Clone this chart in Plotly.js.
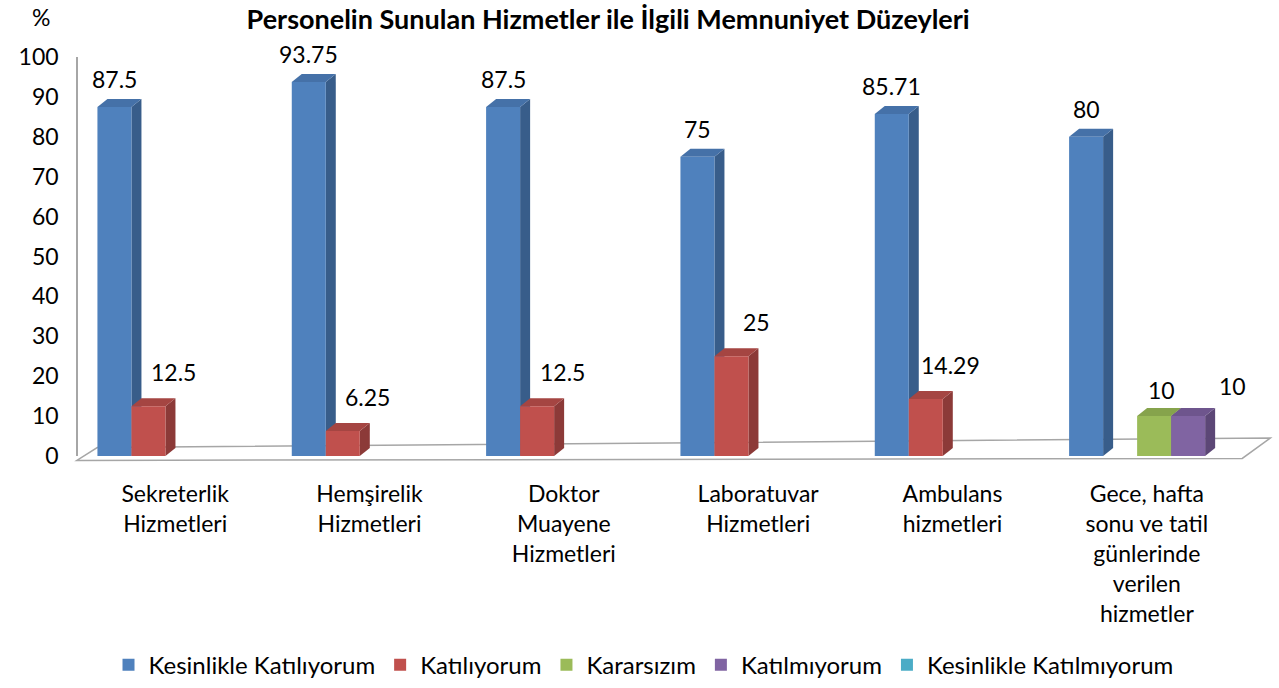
<!DOCTYPE html>
<html>
<head>
<meta charset="utf-8">
<script src="https://cdn.plot.ly/plotly-3.0.1.min.js"></script>
<style>html,body{margin:0;padding:0;background:#fff;}#chart{width:1279px;height:688px;}</style>
</head>
<body>
<div id="chart"></div>
<script>
// ---- Data ----
const categories = [
  'Sekreterlik<br>Hizmetleri',
  'Hemşirelik<br>Hizmetleri',
  'Doktor<br>Muayene<br>Hizmetleri',
  'Laboratuvar<br>Hizmetleri',
  'Ambulans<br>hizmetleri',
  'Gece, hafta<br>sonu ve tatil<br>günlerinde<br>verilen<br>hizmetler'
];
const seriesNames = ['Kesinlikle Katılıyorum', 'Katılıyorum', 'Kararsızım', 'Katılmıyorum', 'Kesinlikle Katılmıyorum'];
const kesinlikleKatiliyorum = [87.5, 93.75, 87.5, 75, 85.71, 80];
const katiliyorum = [12.5, 6.25, 12.5, 25, 14.29, null];
const kararsizim = [null, null, null, null, null, 10];
const katilmiyorum = [null, null, null, null, null, 10];
const kesinlikleKatilmiyorum = [null, null, null, null, null, null];
const yTicks = [0, 10, 20, 30, 40, 50, 60, 70, 80, 90, 100];

// ---- Style ----
const seriesValues = [kesinlikleKatiliyorum, katiliyorum, kararsizim, katilmiyorum, kesinlikleKatilmiyorum];
const frontColors = ['#4F81BD', '#C0504D', '#9BBB59', '#8064A2', '#4BACC6'];
const sideColors  = ['#385D8A', '#8C3A38', '#71893F', '#5C4776', '#357D91'];
const topColors   = ['#4571A8', '#A54542', '#86A34C', '#6E558D', '#4196AC'];
const barW = 0.175;
const offsets = [-0.40, -0.225, -0.05, 0.125, 0.30];
const labelXShift = [0, 25, 7, 44, 0];
const labelYShift = [28, 34, 26, 30, 28];
const depthX = 0.0515, depthY = 2.0;
const FONT = 'Lato, "Open Sans", sans-serif';

const xIdx = categories.map((c, i) => i);

const traces = seriesValues.map((vals, s) => ({
  type: 'bar',
  name: seriesNames[s],
  x: xIdx,
  y: vals,
  width: barW,
  offset: offsets[s],
  marker: {color: frontColors[s], line: {width: 0}},
  hoverinfo: 'name+y'
}));

const shapes = [];
// floor outline (paper coords)
shapes.push({
  type: 'path', xref: 'paper', yref: 'paper', layer: 'below',
  path: 'M -0.001,-0.011 L 0.9985,-0.006 L 1.0225,0.045 L 0.0165,0.021 Z',
  line: {color: '#A6A6A6', width: 1.5}, fillcolor: 'rgba(255,255,255,0)'
});
// 3D side & top faces built from the data
xIdx.forEach(i => {
  seriesValues.forEach((vals, s) => {
    const v = vals[i];
    if (v === null || v === undefined) return;
    const x0 = i + offsets[s], x1 = x0 + barW;
    shapes.push({
      type: 'path', xref: 'x', yref: 'y', layer: 'below',
      path: `M ${x1},0 L ${x1 + depthX},${depthY} L ${x1 + depthX},${v + depthY} L ${x1},${v} Z`,
      fillcolor: sideColors[s], line: {width: 0}
    });
    shapes.push({
      type: 'path', xref: 'x', yref: 'y', layer: 'below',
      path: `M ${x0},${v} L ${x1},${v} L ${x1 + depthX},${v + depthY} L ${x0 + depthX},${v + depthY} Z`,
      fillcolor: topColors[s], line: {width: 0}
    });
  });
});

const annotations = [];
xIdx.forEach(i => {
  seriesValues.forEach((vals, s) => {
    const v = vals[i];
    if (v === null || v === undefined) return;
    annotations.push({
      x: i + offsets[s] + barW / 2, y: v, xref: 'x', yref: 'y',
      text: String(v), showarrow: false,
      xanchor: 'center', yanchor: 'middle',
      xshift: labelXShift[s], yshift: labelYShift[s],
      font: {family: FONT, size: 23, color: '#000'}
    });
  });
});
annotations.push({
  x: -0.032, y: 1.10, xref: 'paper', yref: 'paper', text: '%', showarrow: false,
  xanchor: 'center', yanchor: 'middle', font: {family: FONT, size: 23, color: '#000'}
});

const layout = {
  width: 1279, height: 688,
  margin: {l: 78, r: 35, t: 57, b: 232, autoexpand: false},
  paper_bgcolor: '#fff', plot_bgcolor: 'rgba(0,0,0,0)',
  title: {
    text: '<b>Personelin Sunulan Hizmetler ile İlgili Memnuniyet Düzeyleri</b>',
    x: 0.4755, xanchor: 'center', xref: 'container',
    y: 0.972, yanchor: 'middle', yref: 'container',
    font: {family: FONT, size: 27, color: '#000'}
  },
  barmode: 'overlay',
  xaxis: {
    range: [-0.5, 5.5], tickvals: xIdx, ticktext: categories,
    showgrid: false, zeroline: false, showline: false, ticks: '',
    tickfont: {family: FONT, size: 23, color: '#000'},
    ticklabelstandoff: 22, fixedrange: true, automargin: false
  },
  yaxis: {
    range: [0, 100], tickvals: yTicks, ticktext: yTicks.map(String),
    showgrid: false, zeroline: false, showline: true, linecolor: '#A6A6A6', linewidth: 1.5,
    ticks: '', tickfont: {family: FONT, size: 23, color: '#000'},
    ticklabelstandoff: 13, fixedrange: true, automargin: false
  },
  showlegend: true,
  legend: {
    orientation: 'h', x: 0.485, xanchor: 'center', y: -0.524, yanchor: 'middle',
    font: {family: FONT, size: 24, color: '#000'}, traceorder: 'normal',
    itemclick: false, itemdoubleclick: false
  },
  shapes: shapes,
  annotations: annotations
};

Plotly.newPlot('chart', traces, layout, {displayModeBar: false, staticPlot: false});
</script>
</body>
</html>
